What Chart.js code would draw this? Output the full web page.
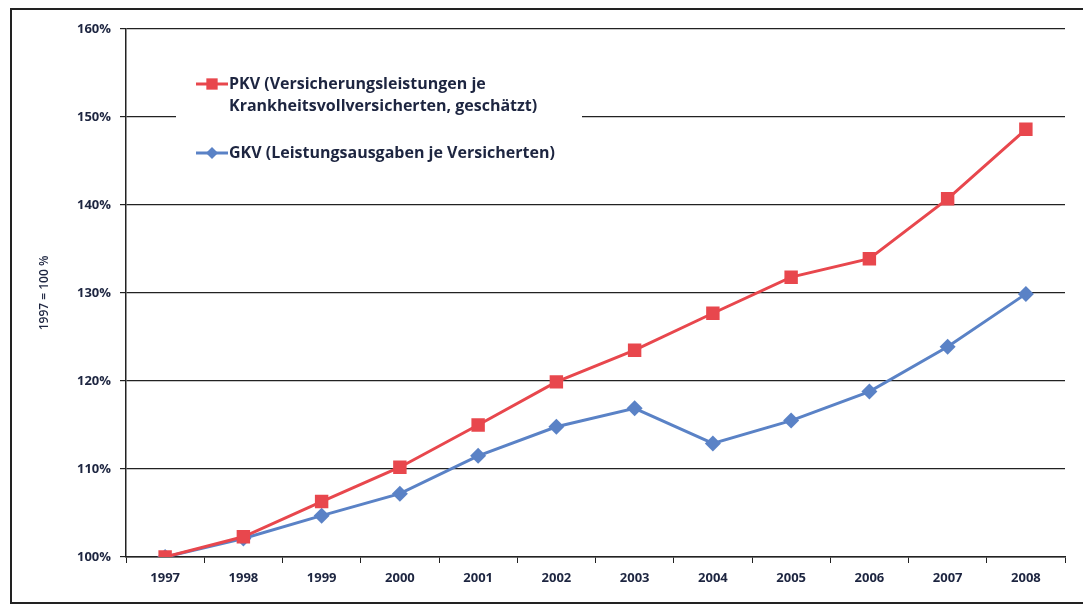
<!DOCTYPE html>
<html>
<head>
<meta charset="utf-8">
<script src="https://cdn.jsdelivr.net/npm/chart.js@4/dist/chart.umd.min.js"></script>
<style>
  body { margin: 0; background: #fff; }
  #wrap { position: relative; width: 1083px; height: 606px; overflow: hidden; }
  #frame { position: absolute; left: 10px; top: 8px; width: 1100px; height: 592px; border: 2px solid #222; }
  canvas { position: absolute; left: 0; top: 0; }
</style>
</head>
<body>
<div id="wrap">
  <div id="frame"></div>
  <canvas id="chart" width="1083" height="606"></canvas>
</div>
<script>
// Index values, 1997 = 100 %
const years = ['1997', '1998', '1999', '2000', '2001', '2002', '2003', '2004', '2005', '2006', '2007', '2008'];
const pkv = [100, 102.3, 106.3, 110.2, 115.0, 119.9, 123.5, 127.7, 131.8, 133.9, 140.7, 148.6];
const gkv = [100, 102.1, 104.7, 107.2, 111.5, 114.8, 116.9, 112.9, 115.5, 118.8, 123.9, 129.9];
const pkvLegend = ['PKV (Versicherungsleistungen je', 'Krankheitsvollversicherten, geschätzt)'];
const gkvLegend = ['GKV (Leistungsausgaben je Versicherten)'];
const yTitle = '1997 = 100 %';

const red = '#e8474d';
const blue = '#5a82c6';
const ink = '#1d2540';

// legend box drawn on top of the grid, like the original
const boxLegend = {
  id: 'boxLegend',
  afterDraw(chart) {
    const ctx = chart.ctx;
    ctx.save();
    ctx.fillStyle = '#fff';
    ctx.fillRect(176, 48, 406, 138);
    const entries = [
      { lines: pkvLegend, color: red, style: 'rect', r: 8, y: 84 },
      { lines: gkvLegend, color: blue, style: 'rectRot', r: 6, y: 153 }
    ];
    entries.forEach(e => {
      ctx.strokeStyle = e.color;
      ctx.lineWidth = 3;
      ctx.beginPath();
      ctx.moveTo(196, e.y);
      ctx.lineTo(228, e.y);
      ctx.stroke();
      ctx.fillStyle = e.color;
      Chart.helpers.drawPoint(ctx, { pointStyle: e.style, radius: e.r, borderWidth: 0 }, 212, e.y);
      ctx.fillStyle = ink;
      ctx.font = 'bold 16px "Open Sans"';
      ctx.textBaseline = 'middle';
      e.lines.forEach((t, i) => ctx.fillText(t, 229, e.y + i * 22));
    });
    ctx.restore();
  }
};

new Chart(document.getElementById('chart'), {
  type: 'line',
  data: {
    labels: years,
    datasets: [
      {
        label: pkvLegend.join(' '),
        data: pkv,
        borderColor: red,
        backgroundColor: red,
        borderWidth: 3,
        pointStyle: 'rect',
        pointRadius: 9.5,
        pointBorderWidth: 0,
        tension: 0
      },
      {
        label: gkvLegend[0],
        data: gkv,
        borderColor: blue,
        backgroundColor: blue,
        borderWidth: 3,
        pointStyle: 'rectRot',
        pointRadius: 8,
        pointBorderWidth: 0,
        tension: 0
      }
    ]
  },
  options: {
    responsive: false,
    animation: false,
    devicePixelRatio: 1,
    layout: { padding: { left: 33, top: 29, right: 18, bottom: 0 } },
    plugins: {
      legend: { display: false },
      tooltip: { enabled: false }
    },
    scales: {
      x: {
        offset: true,
        grid: { offset: true, drawOnChartArea: false, drawTicks: true, tickLength: 6, color: '#222' },
        border: { color: '#222', width: 1.5 },
        ticks: { color: ink, font: { family: 'Open Sans', weight: 'bold', size: 13 }, padding: 7, maxRotation: 0 },
        afterFit: s => { s.height = 49; }
      },
      y: {
        min: 100,
        max: 160,
        grid: { color: '#222', lineWidth: 1.2, tickLength: 6 },
        border: { color: '#222', width: 1.5 },
        ticks: {
          stepSize: 10,
          color: ink,
          padding: 9,
          font: { family: 'Open Sans', weight: 'bold', size: 13 },
          callback: v => v + '%'
        },
        title: {
          display: true,
          text: yTitle,
          color: ink,
          font: { family: 'Open Sans', weight: '600', size: 12 },
          padding: { top: 4, bottom: 0 }
        },
        afterFit: s => { s.width = 93; }
      }
    }
  },
  plugins: [boxLegend]
});
</script>
</body>
</html>
